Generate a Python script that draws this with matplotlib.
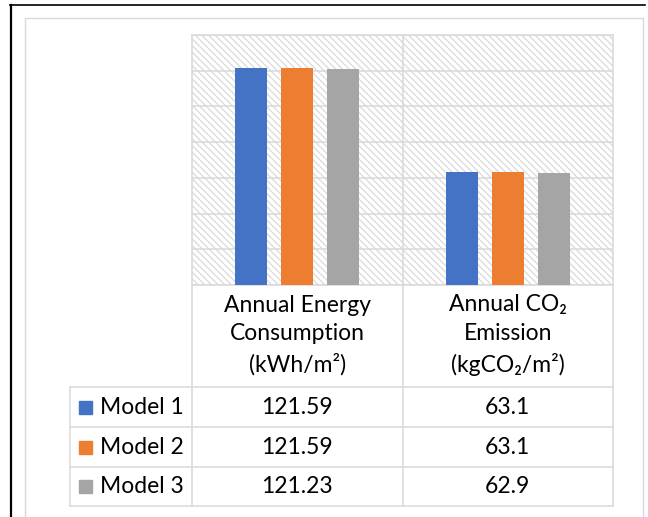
import matplotlib.pyplot as plt
import matplotlib.transforms as mtransforms
from matplotlib.patches import Rectangle
from matplotlib.lines import Line2D
import numpy as np

# data
categories = ['Annual Energy\nConsumption\n(kWh/m²)', 'Annual CO₂\nEmission\n(kgCO₂/m²)']
models = ['Model 1', 'Model 2', 'Model 3']
model1 = [121.59, 63.1]
model2 = [121.59, 63.1]
model3 = [121.23, 62.9]
colors = ['#4472C4', '#ED7D31', '#A5A5A5']

plt.rcParams['font.family'] = ['Lato', 'DejaVu Sans']
plt.rcParams['hatch.color'] = '#dadada'
plt.rcParams['hatch.linewidth'] = 0.9

W, H = 648, 517
grid_c = '#d9d9d9'


def fx(x):
    return x / W


def fy(y):
    return 1 - y / H


fig = plt.figure(figsize=(W / 100, H / 100), dpi=100)

# outer frame (black) and chart area border (gray)
fig.add_artist(Line2D([fx(11), fx(11)], [fy(5), fy(520)], color='black', lw=1.6))
fig.add_artist(Line2D([fx(10), fx(645)], [fy(5), fy(5)], color='black', lw=1.2))
fig.add_artist(Line2D([fx(25), fx(25), fx(643), fx(643)], [fy(520), fy(18), fy(18), fy(520)],
                      color=grid_c, lw=1.0))

ax = fig.add_axes([fx(192), fy(285), (613 - 192) / W, 250 / H])
ax.set_facecolor('white')
bg = Rectangle((0, 0), 1, 1, transform=ax.transAxes, facecolor='white',
               edgecolor='#dadada', lw=0, hatch='\\\\\\\\\\', zorder=0)
ax.add_patch(bg)

x = np.arange(len(categories))
width = 0.152
step = 0.219
for i, (vals, c) in enumerate(zip([model1, model2, model3], colors)):
    ax.bar(x + (i - 1) * step, vals, width, color=c, zorder=3, label=models[i])

ax.set_xlim(-0.5, len(categories) - 0.5)
ax.set_ylim(0, 140)
ax.set_yticks(np.arange(0, 141, 20))
ax.set_xticks([])
ax.yaxis.grid(True, color=grid_c, lw=1.1, zorder=1)
ax.set_axisbelow(True)
ax.tick_params(axis='y', length=0, labelleft=False)
for s in ax.spines.values():
    s.set_color(grid_c)
    s.set_linewidth(1.1)
for b in np.arange(0.5, len(categories) - 0.5, 1):
    ax.axvline(b, color=grid_c, lw=1.1, zorder=1)

# data table below the plot
trans = mtransforms.blended_transform_factory(ax.transData, fig.transFigure)
row_lines = [387, 427, 467, 506]
for yy in row_lines:
    fig.add_artist(Line2D([fx(70), fx(613)], [fy(yy), fy(yy)], color=grid_c, lw=1.1))
fig.add_artist(Line2D([fx(70), fx(70)], [fy(387), fy(506)], color=grid_c, lw=1.1))
for xx in [192, 403, 613]:
    fig.add_artist(Line2D([fx(xx), fx(xx)], [fy(285), fy(506)], color=grid_c, lw=1.1))

for j, cat in enumerate(categories):
    fig.text(j, fy(335), cat, transform=trans, ha='center', va='center',
             fontsize=16.5, linespacing=1.45)

for i, (name, vals) in enumerate(zip(models, [model1, model2, model3])):
    yc = (row_lines[i] + row_lines[i + 1]) / 2
    fig.add_artist(Rectangle((fx(79), fy(yc + 6.5)), 13 / W, 13 / H,
                             transform=fig.transFigure, color=colors[i]))
    fig.text(fx(100), fy(yc), name, ha='left', va='center', fontsize=16.5)
    for j, v in enumerate(vals):
        fig.text(j, fy(yc), f'{v:g}', transform=trans, ha='center', va='center', fontsize=16.5)

fig.savefig('out.png', dpi=100)
